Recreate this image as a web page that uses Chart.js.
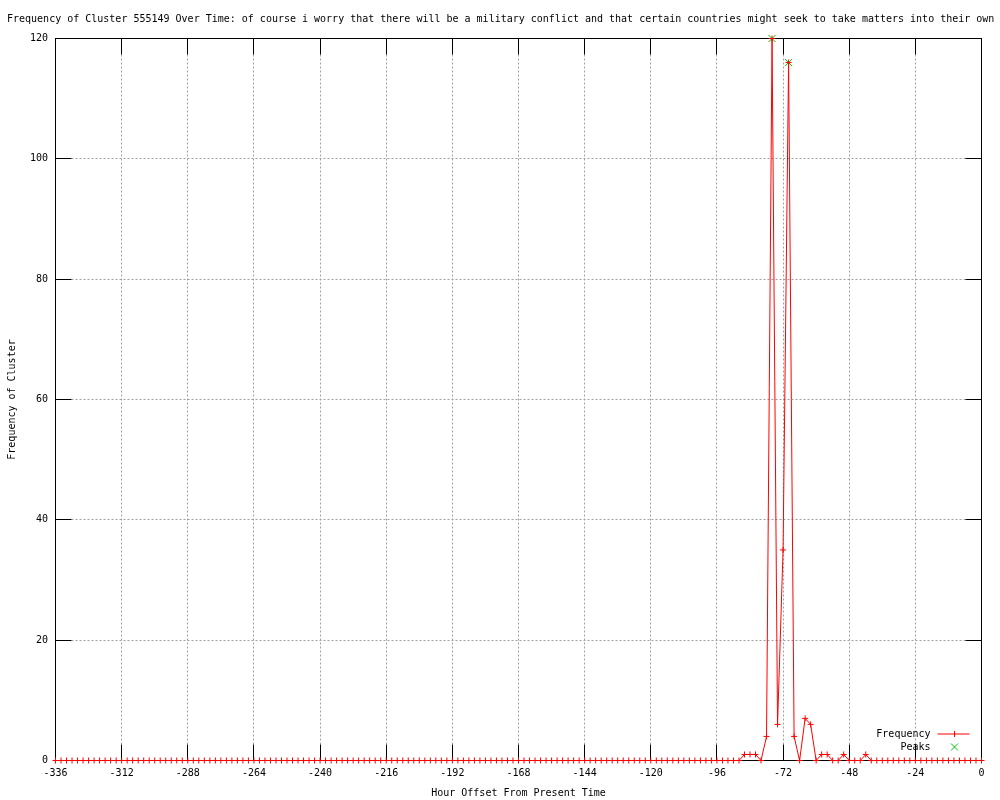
<!DOCTYPE html>
<html>
<head>
<meta charset="utf-8">
<title>Frequency of Cluster 555149 Over Time</title>
<script src="https://cdn.jsdelivr.net/npm/chart.js@4/dist/chart.umd.min.js"></script>
<style>
  html, body { margin: 0; padding: 0; background: #fff; }
  canvas { display: block; }
</style>
</head>
<body>
<canvas id="freqChart" width="1000" height="800"></canvas>
<script>
const chartTitle = "Frequency of Cluster 555149 Over Time: of course i worry that there will be a military conflict and that certain countries might seek to take matters into their own hands";

// hour offsets, one sample every 2 hours
const hours = [
    -336, -334, -332, -330, -328, -326, -324, -322, -320, -318, -316, -314,
    -312, -310, -308, -306, -304, -302, -300, -298, -296, -294, -292, -290,
    -288, -286, -284, -282, -280, -278, -276, -274, -272, -270, -268, -266,
    -264, -262, -260, -258, -256, -254, -252, -250, -248, -246, -244, -242,
    -240, -238, -236, -234, -232, -230, -228, -226, -224, -222, -220, -218,
    -216, -214, -212, -210, -208, -206, -204, -202, -200, -198, -196, -194,
    -192, -190, -188, -186, -184, -182, -180, -178, -176, -174, -172, -170,
    -168, -166, -164, -162, -160, -158, -156, -154, -152, -150, -148, -146,
    -144, -142, -140, -138, -136, -134, -132, -130, -128, -126, -124, -122,
    -120, -118, -116, -114, -112, -110, -108, -106, -104, -102, -100, -98,
    -96, -94, -92, -90, -88, -86, -84, -82, -80, -78, -76, -74,
    -72, -70, -68, -66, -64, -62, -60, -58, -56, -54, -52, -50,
    -48, -46, -44, -42, -40, -38, -36, -34, -32, -30, -28, -26,
    -24, -22, -20, -18, -16, -14, -12, -10, -8, -6, -4, -2,
    0,
];

const frequency = [
    0, 0, 0, 0, 0, 0, 0, 0, 0, 0, 0, 0,
    0, 0, 0, 0, 0, 0, 0, 0, 0, 0, 0, 0,
    0, 0, 0, 0, 0, 0, 0, 0, 0, 0, 0, 0,
    0, 0, 0, 0, 0, 0, 0, 0, 0, 0, 0, 0,
    0, 0, 0, 0, 0, 0, 0, 0, 0, 0, 0, 0,
    0, 0, 0, 0, 0, 0, 0, 0, 0, 0, 0, 0,
    0, 0, 0, 0, 0, 0, 0, 0, 0, 0, 0, 0,
    0, 0, 0, 0, 0, 0, 0, 0, 0, 0, 0, 0,
    0, 0, 0, 0, 0, 0, 0, 0, 0, 0, 0, 0,
    0, 0, 0, 0, 0, 0, 0, 0, 0, 0, 0, 0,
    0, 0, 0, 0, 0, 1, 1, 1, 0, 4, 120, 6,
    35, 116, 4, 0, 7, 6, 0, 1, 1, 0, 0, 1,
    0, 0, 0, 1, 0, 0, 0, 0, 0, 0, 0, 0,
    0, 0, 0, 0, 0, 0, 0, 0, 0, 0, 0, 0,
    0,
];

const peakHours = [-76, -70];
const peakValues = [120, 116];

const xTickValues = [-336, -312, -288, -264, -240, -216, -192, -168, -144, -120, -96, -72, -48, -24, 0];
const yTickValues = [0, 20, 40, 60, 80, 100, 120];

const FONT_FAMILY = '"DejaVu Sans Mono", "Liberation Mono", monospace';
const font = { family: FONT_FAMILY, size: 10 };

// gnuplot style frame: dotted grid, inward ticks on all four sides, black border
const gnuplotFrame = {
    id: "gnuplotFrame",
    beforeDatasetsDraw(chart) {
        const { ctx, chartArea: a, scales: { x, y } } = chart;
        const tick = 16;
        const col = (v) => Math.floor(x.getPixelForValue(v)) + 0.5;
        const row = (v) => Math.floor(y.getPixelForValue(v)) + 0.5;

        ctx.save();
        ctx.lineWidth = 1;

        ctx.strokeStyle = "#a0a0a0";
        ctx.setLineDash([2, 2]);
        ctx.beginPath();
        xTickValues.slice(1, -1).forEach((v) => {
            ctx.moveTo(col(v), a.top + tick);
            ctx.lineTo(col(v), a.bottom - tick);
        });
        yTickValues.slice(1, -1).forEach((v) => {
            ctx.moveTo(a.left + tick, row(v));
            ctx.lineTo(a.right - tick, row(v));
        });
        ctx.stroke();

        ctx.setLineDash([]);
        ctx.strokeStyle = "#000";
        ctx.beginPath();
        xTickValues.forEach((v) => {
            ctx.moveTo(col(v), a.bottom);
            ctx.lineTo(col(v), a.bottom - tick);
            ctx.moveTo(col(v), a.top);
            ctx.lineTo(col(v), a.top + tick);
        });
        yTickValues.forEach((v) => {
            ctx.moveTo(a.left, row(v));
            ctx.lineTo(a.left + tick, row(v));
            ctx.moveTo(a.right, row(v));
            ctx.lineTo(a.right - tick, row(v));
        });
        ctx.stroke();
        ctx.strokeRect(a.left, a.top, a.right - a.left, a.bottom - a.top);
        ctx.restore();
    },
    afterDraw(chart) {
        const { ctx, chartArea: a } = chart;
        ctx.save();
        ctx.font = `10px ${FONT_FAMILY}`;
        ctx.fillStyle = "#000";

        // title, left aligned and clipped by the canvas edge like the original
        ctx.textAlign = "left";
        ctx.textBaseline = "alphabetic";
        ctx.fillText(chartTitle, 7, 22);

        // key in the lower right corner: label, then sample
        ctx.textAlign = "right";
        ctx.textBaseline = "middle";
        ctx.lineWidth = 1;
        chart.data.datasets.forEach((ds, i) => {
            const yy = a.bottom - 27 + i * 13 + 0.5;
            const x0 = a.right - 44;
            const x1 = a.right - 12;
            const xm = Math.round((x0 + x1) / 2) + 0.5;
            ctx.fillStyle = "#000";
            ctx.fillText(ds.label, a.right - 51, yy);
            ctx.strokeStyle = ds.pointBorderColor;
            ctx.beginPath();
            if (ds.showLine !== false) {
                ctx.moveTo(x0, yy);
                ctx.lineTo(x1, yy);
                ctx.moveTo(xm, yy - ds.pointRadius);
                ctx.lineTo(xm, yy + ds.pointRadius);
            } else {
                const r = ds.pointRadius * 0.7;
                ctx.moveTo(xm - r, yy - r);
                ctx.lineTo(xm + r, yy + r);
                ctx.moveTo(xm - r, yy + r);
                ctx.lineTo(xm + r, yy - r);
            }
            ctx.stroke();
        });
        ctx.restore();
    },
};

new Chart(document.getElementById("freqChart"), {
    type: "line",
    data: {
        datasets: [
            {
                label: "Frequency",
                data: hours.map((h, i) => ({ x: h, y: frequency[i] })),
                borderColor: "#ff0000",
                borderWidth: 1,
                pointStyle: "cross",
                pointRadius: 3,
                pointBorderColor: "#ff0000",
                pointBorderWidth: 1,
                tension: 0,
                fill: false,
                clip: false,
            },
            {
                label: "Peaks",
                data: peakHours.map((h, i) => ({ x: h, y: peakValues[i] })),
                showLine: false,
                pointStyle: "crossRot",
                pointRadius: 5,
                pointBorderColor: "#00c000",
                pointBackgroundColor: "#00c000",
                pointBorderWidth: 1,
                clip: false,
            },
        ],
    },
    options: {
        responsive: false,
        animation: false,
        events: [],
        layout: { padding: { top: 38.5, right: 18.5, left: 0, bottom: 0 } },
        plugins: {
            legend: { display: false },
            title: { display: false },
            tooltip: { enabled: false },
        },
        scales: {
            x: {
                type: "linear",
                min: -336,
                max: 0,
                afterBuildTicks: (s) => { s.ticks = xTickValues.map((v) => ({ value: v })); },
                afterFit: (s) => { s.height = 39.5; },
                grid: { display: false, drawTicks: false },
                border: { display: false },
                ticks: { color: "#000", font, padding: 7, maxRotation: 0, autoSkip: false },
                title: {
                    display: true,
                    text: "Hour Offset From Present Time",
                    color: "#000",
                    font,
                    padding: { top: 0, bottom: 1 },
                },
            },
            y: {
                type: "linear",
                min: 0,
                max: 120,
                afterBuildTicks: (s) => { s.ticks = yTickValues.map((v) => ({ value: v })); },
                afterFit: (s) => { s.width = 55.5; },
                grid: { display: false, drawTicks: false },
                border: { display: false },
                ticks: { color: "#000", font, padding: 7.5 },
                title: {
                    display: true,
                    text: "Frequency of Cluster",
                    color: "#000",
                    font,
                    padding: { top: 6, bottom: 0 },
                },
            },
        },
    },
    plugins: [gnuplotFrame],
});
</script>
</body>
</html>
